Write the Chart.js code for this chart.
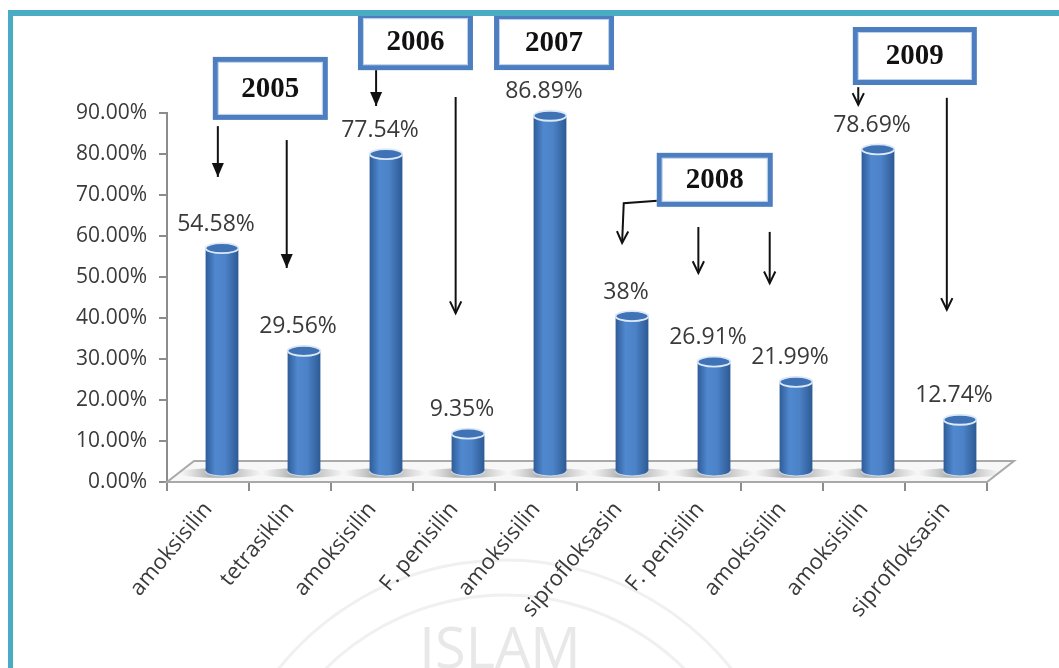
<!DOCTYPE html>
<html>
<head>
<meta charset="utf-8">
<script src="https://cdn.jsdelivr.net/npm/chart.js@4.4.1/dist/chart.umd.min.js"></script>
<style>
  body { margin: 0; background: #fff; }
  #wrap { position: relative; width: 1059px; height: 668px; overflow: hidden; }
  #frame { position: absolute; left: 8px; top: 10px; right: -10px; bottom: -10px;
           border-top: 6px solid #4aabc5; border-left: 5px solid #4aabc5; pointer-events: none; }
</style>
</head>
<body>
<div id="wrap">
  <canvas id="chart" width="1059" height="668"></canvas>
  <div id="frame"></div>
</div>
<script>
// ===== DATA =====
const obat = ["amoksisilin", "tetrasiklin", "amoksisilin", "F. penisilin", "amoksisilin",
              "siprofloksasin", "F. penisilin", "amoksisilin", "amoksisilin", "siprofloksasin"];
const persen = [54.58, 29.56, 77.54, 9.35, 86.89, 38, 26.91, 21.99, 78.69, 12.74];
const labelPersen = ["54.58%", "29.56%", "77.54%", "9.35%", "86.89%", "38%", "26.91%", "21.99%", "78.69%", "12.74%"];

// year boxes: [text, category position, value position]
const tahun = ["2005", "2006", "2007", "2008", "2009"];
const tahunX = [0.76, 2.53, 4.22, 6.18, 8.62];
const tahunY = [96.0, 107.4, 107.3, 73.7, 103.9];
const tahunW = [115, 115, 120, 116, 124];
const tahunH = [63, 57, 56, 54, 58];

// arrows: points as [category pos, value pos], filled head or open V
const panah = [
  { pts: [[0.12, 86.8], [0.12, 74.4]], filled: true },
  { pts: [[0.96, 83.4], [0.96, 52.2]], filled: true },
  { pts: [[2.05, 101.5], [2.05, 91.7]], filled: true },
  { pts: [[3.02, 93.9], [3.02, 41.2]], filled: false },
  { pts: [[5.48, 68.6], [5.07, 68.0], [5.05, 58.3]], filled: false },
  { pts: [[5.98, 62.2], [5.98, 51.0]], filled: false },
  { pts: [[6.85, 61.0], [6.85, 48.5]], filled: false },
  { pts: [[7.93, 96.3], [7.93, 92.0]], filled: false },
  { pts: [[9.01, 93.7], [9.01, 42.0]], filled: false }
];

// ===== 3D LOOK =====
const DEPTH_X = 27, DEPTH_Y = 21;
const SHIFT_X = 14, SHIFT_Y = 10;

const efek3d = {
  id: "efek3d",
  beforeDraw(chart) {
    // watermark, under everything else
    const ctx = chart.ctx;
    ctx.save();
    ctx.strokeStyle = "#f0f0f0";
    ctx.lineWidth = 3;
    ctx.beginPath();
    ctx.arc(505, 850, 290, Math.PI * 1.2, Math.PI * 1.8);
    ctx.stroke();
    ctx.beginPath();
    ctx.arc(505, 850, 255, Math.PI * 1.22, Math.PI * 1.78);
    ctx.stroke();
    ctx.fillStyle = "#e8e8e8";
    ctx.font = "56px 'Open Sans'";
    ctx.textAlign = "center";
    ctx.textBaseline = "alphabetic";
    ctx.fillText("ISLAM", 500, 668);
    ctx.restore();
  },
  beforeDatasetsDraw(chart) {
    const ctx = chart.ctx;
    const a = chart.chartArea;
    ctx.save();
    // floor
    ctx.beginPath();
    ctx.moveTo(a.left, a.bottom);
    ctx.lineTo(a.right, a.bottom);
    ctx.lineTo(a.right + DEPTH_X, a.bottom - DEPTH_Y);
    ctx.lineTo(a.left + DEPTH_X, a.bottom - DEPTH_Y);
    ctx.closePath();
    ctx.fillStyle = "#f7f7f7";
    ctx.fill();
    ctx.strokeStyle = "#a9a9a9";
    ctx.lineWidth = 2;
    ctx.stroke();

    // shadows on floor
    const meta = chart.getDatasetMeta(0);
    meta.data.forEach(el => {
      const cx = el.x + SHIFT_X;
      const by = el.base - SHIFT_Y;
      const g = ctx.createLinearGradient(cx - 42, 0, cx + 40, 0);
      g.addColorStop(0, "rgba(150,150,150,0)");
      g.addColorStop(0.35, "rgba(120,120,120,0.55)");
      g.addColorStop(0.7, "rgba(140,140,140,0.45)");
      g.addColorStop(1, "rgba(150,150,150,0)");
      ctx.fillStyle = g;
      ctx.beginPath();
      ctx.ellipse(cx - 2, by + 2, 42, 5, 0, 0, Math.PI * 2);
      ctx.fill();
    });
    ctx.restore();
  },
  afterDatasetsDraw(chart) {
    const ctx = chart.ctx;
    const meta = chart.getDatasetMeta(0);
    ctx.save();
    meta.data.forEach((el, i) => {
      const cx = el.x + SHIFT_X;
      const rx = el.width / 2;
      const ry = 5;
      const top = el.y - SHIFT_Y;
      const bot = el.base - SHIFT_Y;

      const g = ctx.createLinearGradient(cx - rx, 0, cx + rx, 0);
      g.addColorStop(0, "#2f5c98");
      g.addColorStop(0.3, "#5088cf");
      g.addColorStop(0.6, "#4c82c7");
      g.addColorStop(1, "#2d5a94");
      ctx.beginPath();
      ctx.moveTo(cx - rx, top);
      ctx.lineTo(cx - rx, bot);
      ctx.ellipse(cx, bot, rx, ry, 0, Math.PI, 0, true);
      ctx.lineTo(cx + rx, top);
      ctx.closePath();
      ctx.fillStyle = g;
      ctx.fill();

      // bottom rim
      ctx.beginPath();
      ctx.ellipse(cx, bot, rx, ry, 0, Math.PI, 0, true);
      ctx.strokeStyle = "rgba(220,232,246,0.8)";
      ctx.lineWidth = 1.2;
      ctx.stroke();

      // top cap
      ctx.beginPath();
      ctx.ellipse(cx, top, rx, ry, 0, 0, Math.PI * 2);
      ctx.fillStyle = "#3f73b6";
      ctx.fill();
      ctx.strokeStyle = "#dbe8f7";
      ctx.lineWidth = 1.8;
      ctx.stroke();

      // value label
      ctx.fillStyle = "#3a3a3a";
      ctx.font = "23px 'Open Sans'";
      ctx.textAlign = "center";
      ctx.textBaseline = "middle";
      ctx.fillText(labelPersen[i], el.x + 8, el.y - 34);
    });
    ctx.restore();
  },
  afterDraw(chart) {
    const ctx = chart.ctx;
    const xs = chart.scales.x;
    const ys = chart.scales.y;
    const px = u => xs.getPixelForValue(u);
    const py = v => ys.getPixelForValue(v);
    ctx.save();

    // arrows
    ctx.strokeStyle = "#111";
    ctx.fillStyle = "#111";
    ctx.lineWidth = 2;
    panah.forEach(p => {
      const pts = p.pts.map(q => [px(q[0]), py(q[1])]);
      ctx.beginPath();
      ctx.moveTo(pts[0][0], pts[0][1]);
      for (let k = 1; k < pts.length; k++) ctx.lineTo(pts[k][0], pts[k][1]);
      ctx.stroke();
      const e = pts[pts.length - 1];
      const s = pts[pts.length - 2];
      const ang = Math.atan2(e[1] - s[1], e[0] - s[0]);
      if (p.filled) {
        ctx.beginPath();
        ctx.moveTo(e[0], e[1]);
        ctx.lineTo(e[0] - 14 * Math.cos(ang) + 6 * Math.sin(ang), e[1] - 14 * Math.sin(ang) - 6 * Math.cos(ang));
        ctx.lineTo(e[0] - 14 * Math.cos(ang) - 6 * Math.sin(ang), e[1] - 14 * Math.sin(ang) + 6 * Math.cos(ang));
        ctx.closePath();
        ctx.fill();
      } else {
        ctx.beginPath();
        ctx.moveTo(e[0] - 13 * Math.cos(ang - 0.45), e[1] - 13 * Math.sin(ang - 0.45));
        ctx.lineTo(e[0], e[1]);
        ctx.lineTo(e[0] - 13 * Math.cos(ang + 0.45), e[1] - 13 * Math.sin(ang + 0.45));
        ctx.stroke();
      }
    });

    // year boxes
    tahun.forEach((t, i) => {
      const cx = px(tahunX[i]);
      const cy = py(tahunY[i]);
      const w = tahunW[i], h = tahunH[i];
      ctx.fillStyle = "#fff";
      ctx.fillRect(cx - w / 2, cy - h / 2, w, h);
      ctx.strokeStyle = "#4d7fc0";
      ctx.lineWidth = 5;
      ctx.strokeRect(cx - w / 2 + 2.5, cy - h / 2 + 2.5, w - 5, h - 5);
      ctx.strokeStyle = "rgba(160,190,228,0.7)";
      ctx.lineWidth = 1;
      ctx.strokeRect(cx - w / 2 + 5.5, cy - h / 2 + 5.5, w - 11, h - 11);
      ctx.fillStyle = "#111";
      ctx.font = "bold 29px 'Liberation Serif'";
      ctx.textAlign = "center";
      ctx.textBaseline = "middle";
      ctx.fillText(t, cx, cy + 1);
    });
    ctx.restore();
  }
};

// ===== CHART =====
const axisGray = "#8c8c8c";
const canvas = document.getElementById("chart");
const ctx = canvas.getContext("2d");

const chart = new Chart(ctx, {
  type: "bar",
  data: {
    labels: obat,
    datasets: [{
      data: persen,
      backgroundColor: "rgba(0,0,0,0)",
      borderWidth: 0,
      barPercentage: 0.4,
      categoryPercentage: 1
    }]
  },
  options: {
    responsive: false,
    animation: false,
    devicePixelRatio: 1,
    layout: { padding: { top: 113, right: 72, left: 0, bottom: 0 } },
    plugins: { legend: { display: false }, tooltip: { enabled: false } },
    scales: {
      y: {
        min: 0,
        max: 90,
        afterFit: s => { s.width = 167; },
        ticks: {
          stepSize: 10,
          padding: 12,
          color: "#3a3a3a",
          font: { family: "'Open Sans'", size: 21 },
          callback: v => v.toFixed(2) + "%"
        },
        grid: { drawOnChartArea: false, tickLength: 8, color: axisGray, lineWidth: 2 },
        border: { color: axisGray, width: 2 }
      },
      x: {
        afterFit: s => { s.height = 186; },
        ticks: {
          autoSkip: false,
          minRotation: 50,
          maxRotation: 50,
          padding: 6,
          color: "#3a3a3a",
          font: { family: "'Open Sans'", size: 22 }
        },
        grid: { drawOnChartArea: false, offset: true, tickLength: 9, color: axisGray, lineWidth: 2 },
        border: { color: axisGray, width: 2 }
      }
    }
  },
  plugins: [efek3d]
});
</script>
</body>
</html>
